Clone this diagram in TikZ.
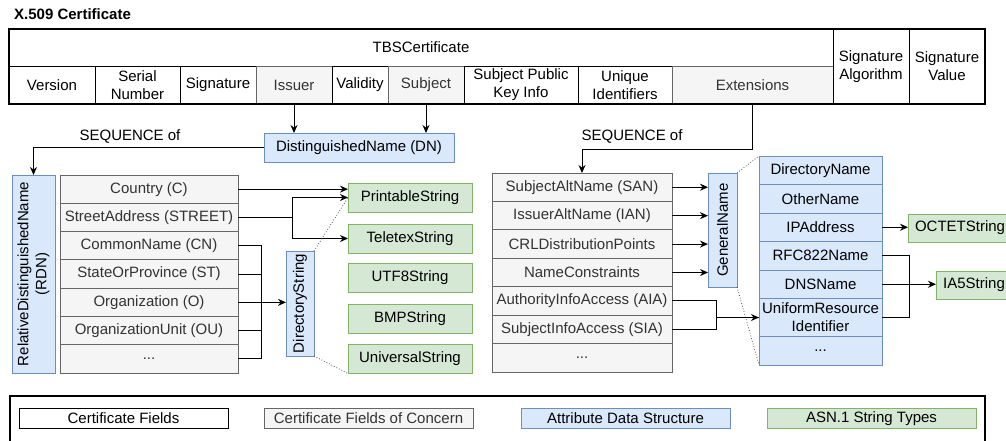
\documentclass[tikz,border=0pt]{standalone}
\usepackage{fontspec}
\setmainfont{Liberation Sans}
\usepackage{tikz}
\usetikzlibrary{arrows.meta,positioning}
\definecolor{cgrayfill}{HTML}{F5F5F5}
\definecolor{cgrayline}{HTML}{666666}
\definecolor{cgraytext}{HTML}{333333}
\definecolor{cbluefill}{HTML}{DAE8FC}
\definecolor{cblueline}{HTML}{6C8EBF}
\definecolor{cgreenfill}{HTML}{D5E8D4}
\definecolor{cgreenline}{HTML}{82B366}
\tikzset{
  cfield/.style={draw, align=center, inner sep=0pt, outer sep=0pt, line width=1pt, font=\fontsize{15}{18}\selectfont},
  cconcern/.style={cfield, draw=cgrayline, fill=cgrayfill, text=cgraytext},
  cattr/.style={cfield, draw=cblueline, fill=cbluefill},
  cstr/.style={cfield, draw=cgreenline, fill=cgreenfill, minimum width=124pt, minimum height=29pt},
  chead/.style={cfield, minimum height=38pt},
  crowl/.style={cconcern, minimum width=178pt, minimum height=28.3pt},
  crowe/.style={cconcern, minimum width=180pt, minimum height=28.43pt},
  crowg/.style={cattr, minimum width=123pt, minimum height=28.5pt},
  clegend/.style={cfield, minimum width=209pt, minimum height=20.5pt},
  ctext/.style={inner sep=0pt, font=\fontsize{15}{18}\selectfont},
  carrow/.style={-{Stealth[length=8pt,width=7pt]}, line width=1pt},
  cline/.style={line width=1pt},
  czoom/.style={dotted, line width=0.8pt, draw=black!70}
}

\begin{document}
\begin{tikzpicture}[x=1pt,y=-1pt]
\useasboundingbox (0,0) rectangle (1006,440);
\clip (0,0) rectangle (1006,440);
\node[ctext, anchor=west, font=\fontsize{15}{18}\selectfont\bfseries] (title) at (14,14) {X.509 Certificate};

% certificate header
\node[cfield, anchor=north west, minimum width=824pt, minimum height=37pt] (tbs) at (9,29) {TBSCertificate};
\node[chead, anchor=north west, minimum width=86pt] (version) at (9,66) {Version};
\node[chead, right=0pt of version, minimum width=85pt] (serial) {Serial\\Number};
\node[chead, right=0pt of serial, minimum width=76pt] (signature) {Signature};
\node[chead, cconcern, right=0pt of signature, minimum width=76pt] (issuer) {Issuer};
\node[chead, right=0pt of issuer, minimum width=56pt] (validity) {Validity};
\node[chead, cconcern, right=0pt of validity, minimum width=76pt] (subject) {Subject};
\node[chead, right=0pt of subject, minimum width=114pt] (spki) {Subject Public\\Key Info};
\node[chead, right=0pt of spki, minimum width=94pt] (unique) {Unique\\Identifiers};
\node[chead, cconcern, right=0pt of unique, minimum width=161pt] (ext) {Extensions};
\node[cfield, anchor=north west, minimum width=76pt, minimum height=75pt] (sigalg) at (833,29) {Signature\\Algorithm};
\node[cfield, right=0pt of sigalg, minimum width=76pt, minimum height=75pt] (sigval) {Signature\\Value};
\draw[line width=2pt] (tbs.north west) rectangle (sigval.south east);

% distinguished name side
\node[cattr, minimum width=190pt, minimum height=29pt] (dn) at (359,147.5) {DistinguishedName (DN)};
\node[ctext] (seqdn) at (130,136) {SEQUENCE of};
\draw[carrow] (issuer.south) -- (issuer.south |- dn.north);
\draw[carrow] (subject.south) -- (subject.south |- dn.north);
\node[cattr, minimum width=43pt, minimum height=198pt,
  label={[rotate=90, align=center, ctext]center:RelativeDistinguishedName\\(RDN)}] (rdn) at (33.5,274) {};
\draw[carrow] (dn.west) -| (rdn.north);

\node[crowl, anchor=north west] (country) at (60,175) {Country (C)};
\node[crowl, below=0pt of country] (street) {StreetAddress (STREET)};
\node[crowl, below=0pt of street] (cn) {CommonName (CN)};
\node[crowl, below=0pt of cn] (st) {StateOrProvince (ST)};
\node[crowl, below=0pt of st] (org) {Organization (O)};
\node[crowl, below=0pt of org] (ou) {OrganizationUnit (OU)};
\node[crowl, below=0pt of ou] (moredn) {...};

\node[cattr, minimum width=28pt, minimum height=105pt,
  label={[rotate=90, ctext]center:DirectoryString}] (dirstr) at (300,303.5) {};

\node[cstr, anchor=north west] (pstr) at (348,183) {PrintableString};
\node[cstr, anchor=north west] (tstr) at (348,224) {TeletexString};
\node[cstr, anchor=north west] (u8str) at (348,263.5) {UTF8String};
\node[cstr, anchor=north west] (bmpstr) at (348,304) {BMPString};
\node[cstr, anchor=north west] (ustr) at (348,344.5) {UniversalString};

\draw[carrow] (country.east) -- (country.east -| pstr.west);
\draw[carrow] (street.east) -- ++(54,0) |- (pstr.west);
\draw[carrow] (street.east) -- ++(54,0) |- (tstr.west);
\draw[cline] (cn.east) -- ++(23,0) |- (moredn.east);
\draw[cline] (st.east) -- ++(23,0);
\draw[cline] (ou.east) -- ++(23,0);
\draw[carrow] (org.east) -- (org.east -| dirstr.west);
\draw[czoom] (dirstr.north east) -- (pstr.west);
\draw[czoom] (dirstr.south east) -- (ustr.south west);

% extensions side
\node[ctext] (seqext) at (632,136) {SEQUENCE of};
\node[crowe, anchor=north west] (san) at (492,173) {SubjectAltName (SAN)};
\node[crowe, below=0pt of san] (ian) {IssuerAltName (IAN)};
\node[crowe, below=0pt of ian] (crl) {CRLDistributionPoints};
\node[crowe, below=0pt of crl] (nc) {NameConstraints};
\node[crowe, below=0pt of nc] (aia) {AuthorityInfoAccess (AIA)};
\node[crowe, below=0pt of aia] (sia) {SubjectInfoAccess (SIA)};
\node[crowe, below=0pt of sia] (moreext) {...};
\draw[carrow] (ext.south) -- ++(0,45) -| (san.north);

\node[cattr, minimum width=29pt, minimum height=114pt,
  label={[rotate=90, ctext]center:GeneralName}] (gn) at (722.5,230) {};
\draw[carrow] (san.east) -- (san.east -| gn.west);
\draw[carrow] (ian.east) -- (ian.east -| gn.west);
\draw[carrow] (crl.east) -- (crl.east -| gn.west);
\draw[carrow] (nc.east) -- (nc.east -| gn.west);

\node[crowg, anchor=north west] (dirname) at (759,156) {DirectoryName};
\node[crowg, below=0pt of dirname] (other) {OtherName};
\node[crowg, below=0pt of other] (ip) {IPAddress};
\node[crowg, below=0pt of ip] (rfc) {RFC822Name};
\node[crowg, below=0pt of rfc] (dns) {DNSName};
\node[crowg, below=0pt of dns, minimum height=38pt] (uri) {UniformResource\\Identifier};
\node[crowg, below=0pt of uri] (moregn) {...};
\draw[czoom] (gn.north east) -- (dirname.north west);
\draw[czoom] (gn.south east) -- (moregn.south west);

\draw[carrow] (aia.east) -- ++(44,0) |- (uri.west);
\draw[cline] (sia.east) -- ++(44,0) |- (uri.west);

\node[cstr, anchor=north west, minimum width=104pt, minimum height=28pt] (octet) at (908,214) {OCTETString};
\node[cstr, anchor=north west, minimum width=76pt, minimum height=28pt] (ia5) at (936,271) {IA5String};
\draw[carrow] (ip.east) -- (ip.east -| octet.west);
\draw[cline] (rfc.east) -- ++(27,0) |- (uri.east);
\draw[carrow] (dns.east) -- (dns.east -| ia5.west);

% legend
\draw[line width=1.3pt] (10,450) |- (985,396) -- (985,450);
\node[clegend, anchor=north west] (lgfield) at (19,408) {Certificate Fields};
\node[clegend, cconcern, anchor=north west] (lgconcern) at (264,408) {Certificate Fields of Concern};
\node[clegend, cattr, anchor=north west] (lgattr) at (521,408) {Attribute Data Structure};
\node[clegend, cstr, minimum height=20.5pt, minimum width=209pt, anchor=north west] (lgstr) at (767,408) {ASN.1 String Types};
\end{tikzpicture}
\end{document}
